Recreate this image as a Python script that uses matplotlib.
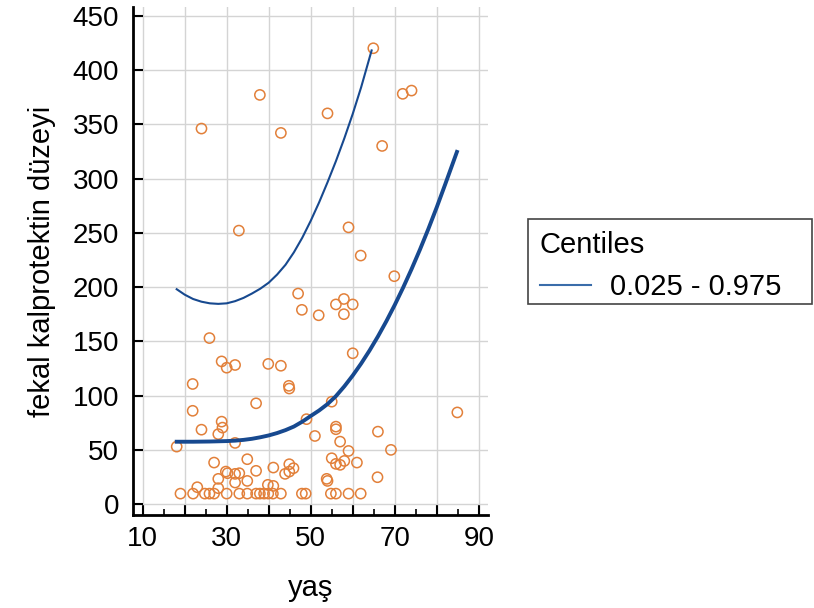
import matplotlib
matplotlib.use("Agg")
import matplotlib.pyplot as plt
from matplotlib.lines import Line2D
from matplotlib.patches import Rectangle
from matplotlib.ticker import MultipleLocator

plt.rcParams['font.family'] = ['Liberation Sans', 'DejaVu Sans']

# scatter: age vs fecal calprotectin
age = [64.9, 37.9, 24.0, 42.9, 54.0, 71.9, 74.0, 67.0, 32.9, 59.0, 61.9, 69.9,
       47.0, 47.9, 51.9, 56.0, 57.9, 60.0, 57.9, 25.9,
       60.0, 28.8, 30.0, 32.0, 39.9, 42.9, 21.9, 44.8, 44.9, 37.0, 55.0, 21.9,
       84.9, 28.8, 29.0, 24.0, 28.0, 49.0, 56.0, 56.0, 51.0, 66.0, 32.0, 57.0,
       18.1, 59.0, 69.1,
       55.0, 56.0, 57.0, 58.0, 61.0, 65.9, 53.8, 54.0, 27.0, 34.9, 37.0, 41.1,
       43.9, 44.9, 44.9, 45.9, 29.8, 30.2, 32.0, 33.0, 32.0, 34.9, 39.8, 41.1,
       23.0, 28.0, 28.0,
       19.0, 22.0, 24.8, 25.9, 27.0, 30.0, 33.0, 34.9, 37.0, 37.9, 38.9, 39.9,
       41.0, 42.9, 47.9, 48.8, 54.8, 56.0, 59.0, 61.9]
calpro = [420, 377, 346, 342, 360, 378, 381, 330, 252, 255, 229, 210,
          194, 179, 174, 184, 189, 184, 175, 153,
          139, 131.5, 125.7, 128.2, 129.2, 127.5, 110.7, 109, 106.5, 92.9, 94.4, 86,
          84.5, 76, 70.5, 68.6, 64.5, 78.3, 71.4, 69, 62.8, 66.8, 56.4, 57.6,
          53, 49, 50,
          42.3, 37.1, 36.2, 39.8, 38.3, 24.8, 23.3, 21.4, 38.3, 41.4, 30.7, 33.7,
          27.9, 30, 36.8, 33.1, 30, 28.5, 27.9, 28.5, 19.9, 21.4, 17.8, 16.8,
          15.6, 14.7, 23.3,
          9.7, 9.7, 9.7, 9.7, 9.7, 9.7, 9.7, 9.7, 9.7, 9.7, 9.7, 9.7,
          9.7, 9.7, 9.7, 9.7, 9.7, 9.7, 9.7, 9.7]

# centile curves
upper_x = [18.1, 20, 22, 24, 26, 28, 30, 32, 34, 36, 38, 40, 42, 44, 46, 48,
           50, 52, 54, 56, 58, 60, 62, 64.5]
upper_y = [198, 193, 189, 186.5, 185, 184.5, 185, 187, 190, 194, 198.5, 204,
           211.5, 220.5, 232, 245.5, 261, 278, 296.5, 316, 337, 359.5, 384, 418]
lower_x = [18.1, 22, 26, 30, 32, 34, 36, 38, 40, 42, 44, 46, 48, 50, 52, 54,
           56, 58, 60, 62, 64, 66, 68, 70, 72, 74, 76, 78, 80, 82, 84.8]
lower_y = [57.5, 57.5, 57.7, 58.1, 58.5, 59.2, 60.2, 61.6, 63.3, 65.5, 68.2,
           71.5, 76.0, 81.2, 86.3, 92.2, 99.5, 108.5, 118.5, 129.5, 141.5,
           154.5, 168.5, 183.5, 199.5, 216.5, 234.5, 253.5, 273.5, 294.5, 324.5]

orange = '#E2803A'
blue = '#17498F'

fig = plt.figure(figsize=(8.14, 6.08), dpi=100)
ax = fig.add_axes([133 / 814, 1 - 515 / 608, (488 - 133) / 814, (515 - 7) / 608])

ax.grid(True, color='#d4d4d4', linewidth=1.0)
ax.set_axisbelow(True)

ax.scatter(age, calpro, s=54, facecolors='none', edgecolors=orange,
           linewidths=1.1, zorder=3)
ax.plot(upper_x, upper_y, color=blue, linewidth=1.5, zorder=4)
ax.plot(lower_x, lower_y, color=blue, linewidth=2.8, zorder=4)

ax.set_xlim(7.7, 92.2)
ax.set_ylim(-10, 458)
ax.set_xticks(range(10, 91, 10))
ax.set_xticklabels([str(v) if v % 20 == 10 else '' for v in range(10, 91, 10)])
ax.xaxis.set_minor_locator(MultipleLocator(5))
ax.set_yticks(range(0, 451, 50))

for side in ['top', 'right']:
    ax.spines[side].set_visible(False)
for side in ['left', 'bottom']:
    ax.spines[side].set_linewidth(2.0)

ax.tick_params(axis='both', which='major', direction='in', length=7,
               width=1.5, labelsize=20)
ax.tick_params(axis='y', which='major', pad=10)
ax.tick_params(axis='x', which='major', pad=8)
ax.tick_params(axis='x', which='minor', direction='in', length=4, width=1.2)
ax.tick_params(axis='y', which='minor', left=False)

ax.set_xlabel('yaş', fontsize=21, labelpad=16)
ax.set_ylabel('fekal kalprotektin düzeyi', fontsize=21, labelpad=12)

# legend placed to the right of the axes, frame drawn separately
handle = Line2D([], [], color='#3A6DAA', linewidth=1.5)
leg = ax.legend([handle], ['0.025 - 0.975'], title='Centiles',
                loc='upper left', bbox_to_anchor=(531 / 814, 1 - 222 / 608),
                bbox_transform=fig.transFigure, fontsize=21, title_fontsize=21,
                frameon=False, handlelength=1.75, handletextpad=0.65,
                borderpad=0.3, borderaxespad=0, alignment='left')
fig.patches.append(Rectangle((528 / 814, 1 - 304 / 608), (812 - 528) / 814,
                             (304 - 219) / 608, transform=fig.transFigure,
                             fill=False, edgecolor='#444444', linewidth=1.2))

fig.savefig('out.png', dpi=100)
